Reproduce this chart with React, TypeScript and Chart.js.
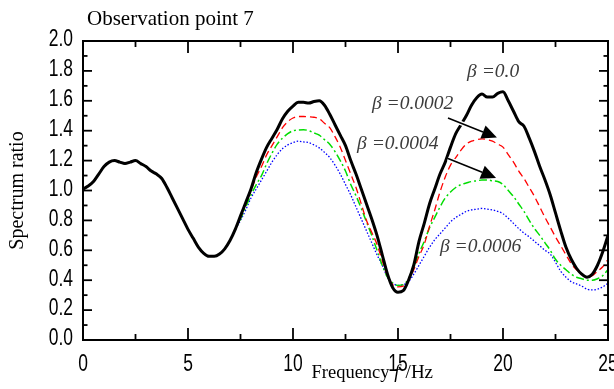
import { useEffect, useRef } from 'react';
import { Chart, registerables } from 'chart.js';

Chart.register(...registerables);

// ---------------- DATA ----------------
const freq = [
  0, 0.25, 0.5, 0.75, 1, 1.25, 1.5, 1.75, 2, 2.25, 2.5, 2.75, 3, 3.25, 3.5, 3.75,
  4, 4.25, 4.5, 4.75, 5, 5.25, 5.5, 5.75, 6, 6.25, 6.5, 6.75, 7, 7.25, 7.5, 7.75,
  8, 8.25, 8.5, 8.75, 9, 9.25, 9.5, 9.75, 10, 10.25, 10.5, 10.75, 11, 11.25, 11.5, 11.75,
  12, 12.25, 12.5, 12.75, 13, 13.25, 13.5, 13.75, 14, 14.25, 14.5, 14.75, 15, 15.25, 15.5, 15.75,
  16, 16.25, 16.5, 16.75, 17, 17.25, 17.5, 17.75, 18, 18.25, 18.5, 18.75, 19, 19.25, 19.5, 19.75,
  20, 20.25, 20.5, 20.75, 21, 21.25, 21.5, 21.75, 22, 22.25, 22.5, 22.75, 23, 23.25, 23.5, 23.75,
  24, 24.25, 24.5, 24.75, 25,
];

const beta0 = [
  1.01, 1.03, 1.06, 1.11, 1.16, 1.19, 1.2, 1.19, 1.18, 1.19, 1.2, 1.18, 1.16, 1.13, 1.11, 1.08,
  1.02, 0.95, 0.88, 0.81, 0.74, 0.68, 0.62, 0.58, 0.56, 0.56, 0.575, 0.61, 0.665, 0.74, 0.83, 0.92,
  1.01, 1.12, 1.21, 1.29, 1.35, 1.41, 1.48, 1.53, 1.565, 1.59, 1.59, 1.585, 1.595, 1.6, 1.57, 1.51,
  1.44, 1.37, 1.3, 1.2, 1.11, 1.01, 0.91, 0.81, 0.7, 0.57, 0.44, 0.35, 0.32, 0.33, 0.4, 0.5,
  0.66, 0.78, 0.91, 1.01, 1.11, 1.19, 1.29, 1.38, 1.44, 1.5, 1.57, 1.62, 1.645, 1.625, 1.625, 1.65,
  1.66, 1.6, 1.53, 1.46, 1.43, 1.35, 1.26, 1.16, 1.07, 0.97, 0.85, 0.73, 0.62, 0.54, 0.48, 0.44,
  0.42, 0.44, 0.5, 0.59, 0.7,
];

const beta0002 = [
  1.01, 1.03, 1.06, 1.11, 1.16, 1.19, 1.2, 1.19, 1.18, 1.19, 1.2, 1.18, 1.16, 1.13, 1.11, 1.08,
  1.02, 0.95, 0.88, 0.81, 0.74, 0.68, 0.62, 0.58, 0.56, 0.56, 0.575, 0.61, 0.665, 0.74, 0.82, 0.91,
  1.0, 1.09, 1.16, 1.24, 1.3, 1.36, 1.42, 1.46, 1.485, 1.495, 1.495, 1.493, 1.49, 1.48, 1.45, 1.42,
  1.36, 1.29, 1.2, 1.11, 1.02, 0.91, 0.8, 0.72, 0.64, 0.53, 0.43, 0.37, 0.355, 0.36, 0.4, 0.47,
  0.56, 0.64, 0.76, 0.87, 0.99, 1.09, 1.17, 1.22, 1.27, 1.31, 1.33, 1.34, 1.345, 1.34, 1.33, 1.31,
  1.29, 1.24, 1.19, 1.13, 1.08, 1.02, 0.96, 0.89, 0.82, 0.755, 0.69, 0.63, 0.57, 0.51, 0.47, 0.44,
  0.42, 0.43, 0.46, 0.49, 0.54,
];

const beta0004 = [
  1.01, 1.03, 1.06, 1.11, 1.16, 1.19, 1.2, 1.19, 1.18, 1.19, 1.2, 1.18, 1.16, 1.13, 1.11, 1.08,
  1.02, 0.95, 0.88, 0.81, 0.74, 0.68, 0.62, 0.58, 0.56, 0.56, 0.575, 0.61, 0.665, 0.74, 0.81, 0.89,
  0.97, 1.04, 1.1, 1.18, 1.25, 1.31, 1.35, 1.38, 1.4, 1.405, 1.407, 1.4, 1.385, 1.37, 1.34, 1.31,
  1.26, 1.2, 1.13, 1.04, 0.965, 0.88, 0.79, 0.7, 0.6, 0.5, 0.42, 0.38, 0.365, 0.37, 0.41, 0.49,
  0.58, 0.66, 0.75, 0.82, 0.89, 0.95, 0.99, 1.02, 1.04, 1.05, 1.06, 1.065, 1.07, 1.07, 1.065, 1.06,
  1.04, 1.0, 0.96, 0.91, 0.86, 0.8, 0.745, 0.7, 0.65, 0.6, 0.54, 0.5, 0.47, 0.44, 0.42, 0.41,
  0.4, 0.4, 0.41, 0.43, 0.47,
];

const beta0006 = [
  1.01, 1.03, 1.06, 1.11, 1.16, 1.19, 1.2, 1.19, 1.18, 1.19, 1.2, 1.18, 1.16, 1.13, 1.11, 1.08,
  1.02, 0.95, 0.88, 0.81, 0.74, 0.68, 0.62, 0.58, 0.56, 0.56, 0.575, 0.61, 0.665, 0.74, 0.8, 0.87,
  0.95, 1.01, 1.07, 1.13, 1.19, 1.24, 1.28, 1.305, 1.32, 1.33, 1.325, 1.32, 1.305, 1.285, 1.255, 1.22,
  1.17, 1.11, 1.04, 0.97, 0.89, 0.81, 0.73, 0.65, 0.57, 0.5, 0.42, 0.38, 0.365, 0.37, 0.39, 0.44,
  0.5, 0.56, 0.62, 0.67, 0.71, 0.75, 0.79, 0.82, 0.84, 0.86, 0.87, 0.875, 0.88, 0.875, 0.87, 0.86,
  0.845, 0.815, 0.78, 0.745, 0.715, 0.69, 0.66, 0.63, 0.6, 0.575, 0.52, 0.46, 0.42, 0.39, 0.375, 0.36,
  0.34, 0.335, 0.34, 0.355, 0.38,
];

const xMajorTicks = [0, 5, 10, 15, 20, 25];
const xMinorTicks = [2.5, 7.5, 12.5, 17.5, 22.5];
const yMajorTicks = [0, 0.2, 0.4, 0.6, 0.8, 1.0, 1.2, 1.4, 1.6, 1.8, 2.0];
const yMinorTicks = [0.1, 0.3, 0.5, 0.7, 0.9, 1.1, 1.3, 1.5, 1.7, 1.9];
const xTickLabels = ['0', '5', '10', '15', '20', '25'];
const yTickLabels = ['0.0', '0.2', '0.4', '0.6', '0.8', '1.0', '1.2', '1.4', '1.6', '1.8', '2.0'];

const seriesLabels = ['\u03b2 =0.0', '\u03b2 =0.0002', '\u03b2 =0.0004', '\u03b2 =0.0006'];
// label anchor (left, baseline) in data units
const labelX = [18.29, 13.76, 13.05, 17.0];
const labelY = [1.759, 1.545, 1.278, 0.589];
// arrows: start -> tip in data units
const arrowFromX = [17.38, 17.38];
const arrowFromY = [1.485, 1.214];
const arrowToX = [19.71, 19.67];
const arrowToY = [1.355, 1.084];

const chartTitle = 'Observation point 7';
const yTitle = 'Spectrum ratio';

const SANS = '"Liberation Sans", Arial, sans-serif';
const SERIF = '"Liberation Serif", "Times New Roman", serif';

const decorPlugin = {
  id: 'decor',
  afterDraw(chart: any) {
    const { ctx, chartArea: a } = chart;
    const xs = chart.scales.x;
    const ys = chart.scales.y;
    ctx.save();
    ctx.strokeStyle = '#000';
    ctx.lineCap = 'butt';
    const line = (x1: number, y1: number, x2: number, y2: number) => {
      ctx.beginPath();
      ctx.moveTo(x1, y1);
      ctx.lineTo(x2, y2);
      ctx.stroke();
    };

    // arrows (with thin white halo that cuts the curves, as in the original)
    arrowFromX.forEach((_, i) => {
      const x1 = xs.getPixelForValue(arrowFromX[i]);
      const y1 = ys.getPixelForValue(arrowFromY[i]);
      const x2 = xs.getPixelForValue(arrowToX[i]);
      const y2 = ys.getPixelForValue(arrowToY[i]);
      const ang = Math.atan2(y2 - y1, x2 - x1);
      const hl = 15;
      const hw = 7;
      const bx = x2 - hl * Math.cos(ang);
      const by = y2 - hl * Math.sin(ang);
      ctx.strokeStyle = '#fff';
      ctx.lineWidth = 4.5;
      line(x1, y1, bx - 3 * Math.cos(ang), by - 3 * Math.sin(ang));
      ctx.strokeStyle = '#000';
      ctx.lineWidth = 1.6;
      line(x1, y1, bx, by);
      ctx.fillStyle = '#000';
      ctx.beginPath();
      ctx.moveTo(x2, y2);
      ctx.lineTo(bx + hw * Math.sin(ang), by - hw * Math.cos(ang));
      ctx.lineTo(bx - hw * Math.sin(ang), by + hw * Math.cos(ang));
      ctx.closePath();
      ctx.fill();
    });

    // frame
    ctx.strokeStyle = '#000';
    ctx.lineWidth = 2;
    ctx.strokeRect(a.left, a.top, a.right - a.left, a.bottom - a.top);
    // ticks
    ctx.lineWidth = 1.8;
    xMajorTicks.forEach((v) => {
      const p = xs.getPixelForValue(v);
      line(p, a.bottom, p, a.bottom - 12);
      line(p, a.top, p, a.top + 12);
    });
    xMinorTicks.forEach((v) => {
      const p = xs.getPixelForValue(v);
      line(p, a.bottom, p, a.bottom - 6);
      line(p, a.top, p, a.top + 6);
    });
    yMajorTicks.forEach((v) => {
      const p = ys.getPixelForValue(v);
      line(a.left, p, a.left + 9, p);
      line(a.right, p, a.right - 9, p);
    });
    yMinorTicks.forEach((v) => {
      const p = ys.getPixelForValue(v);
      line(a.left, p, a.left + 4.5, p);
      line(a.right, p, a.right - 4.5, p);
    });

    // tick labels (condensed sans)
    ctx.fillStyle = '#000';
    ctx.font = '23px ' + SANS;
    ctx.textBaseline = 'middle';
    yMajorTicks.forEach((v, i) => {
      const p = ys.getPixelForValue(v);
      ctx.save();
      ctx.translate(a.left - 10, p - 1);
      ctx.scale(0.76, 1);
      ctx.textAlign = 'right';
      ctx.fillText(yTickLabels[i], 0, 0);
      ctx.restore();
    });
    xMajorTicks.forEach((v, i) => {
      const p = xs.getPixelForValue(v);
      ctx.save();
      ctx.translate(p, a.bottom + 25);
      ctx.scale(0.76, 1);
      ctx.textAlign = 'center';
      ctx.fillText(xTickLabels[i], 0, 0);
      ctx.restore();
    });
    ctx.textBaseline = 'alphabetic';

    // series labels
    ctx.fillStyle = '#3c3c3c';
    ctx.font = 'italic 19.5px ' + SERIF;
    ctx.textAlign = 'left';
    seriesLabels.forEach((t, i) => {
      ctx.fillText(t, xs.getPixelForValue(labelX[i]), ys.getPixelForValue(labelY[i]));
    });

    // chart title
    ctx.fillStyle = '#000';
    ctx.font = '21px ' + SERIF;
    ctx.textAlign = 'left';
    ctx.fillText(chartTitle, 87, 24.5);

    // x axis title: Frequency f /Hz
    ctx.font = '18.5px ' + SERIF;
    let cx = 311.5;
    const by0 = 378;
    ctx.fillText('Frequency ', cx, by0);
    cx += ctx.measureText('Frequency ').width;
    ctx.font = 'italic 18.5px ' + SERIF;
    ctx.fillText('f', cx, by0);
    cx += ctx.measureText('f').width;
    ctx.font = '19px ' + SERIF;
    ctx.fillText(' /Hz', cx + 1.5, by0);

    // y axis title
    ctx.save();
    ctx.translate(23, (a.top + a.bottom) / 2);
    ctx.rotate(-Math.PI / 2);
    ctx.font = '20px ' + SERIF;
    ctx.textAlign = 'center';
    ctx.fillText(yTitle, 0, 0);
    ctx.restore();

    ctx.restore();
  },
};

export default function App() {
  const ref = useRef<HTMLCanvasElement>(null);
  useEffect(() => {
    document.body.style.margin = '0';
    const canvas = ref.current!;
    const mk = (vals: number[]) => freq.map((f, i) => ({ x: f, y: vals[i] }));
    const chart = new Chart(canvas, {
      type: 'line',
      data: {
        datasets: [
          {
            label: seriesLabels[0],
            data: mk(beta0),
            borderColor: '#000000',
            borderWidth: 3,
            pointRadius: 0,
            cubicInterpolationMode: 'monotone',
          },
          {
            label: seriesLabels[1],
            data: mk(beta0002),
            borderColor: '#ff0000',
            borderWidth: 1.3,
            borderDash: [7, 4],
            pointRadius: 0,
            cubicInterpolationMode: 'monotone',
          },
          {
            label: seriesLabels[2],
            data: mk(beta0004),
            borderColor: '#00dd00',
            borderWidth: 1.5,
            borderDash: [8, 3, 2, 3],
            pointRadius: 0,
            cubicInterpolationMode: 'monotone',
          },
          {
            label: seriesLabels[3],
            data: mk(beta0006),
            borderColor: '#0000ff',
            borderWidth: 1.3,
            borderDash: [1.5, 1.8],
            pointRadius: 0,
            cubicInterpolationMode: 'monotone',
          },
        ],
      },
      options: {
        responsive: false,
        animation: false,
        devicePixelRatio: 1,
        layout: { padding: { top: 41, right: 6, left: 0, bottom: 0 } },
        plugins: {
          legend: { display: false },
          title: { display: false },
          tooltip: { enabled: false },
        },
        scales: {
          x: {
            type: 'linear',
            min: 0,
            max: 25,
            grid: { display: false, drawTicks: false },
            border: { display: false },
            afterBuildTicks: (s: any) => {
              s.ticks = xMajorTicks.map((v) => ({ value: v }));
            },
            afterFit: (s: any) => {
              s.height = 49;
              s.paddingLeft = 0;
              s.paddingRight = 0;
            },
            ticks: { display: false },
          },
          y: {
            type: 'linear',
            min: 0,
            max: 2,
            grid: { display: false, drawTicks: false },
            border: { display: false },
            afterBuildTicks: (s: any) => {
              s.ticks = yMajorTicks.map((v) => ({ value: v }));
            },
            afterFit: (s: any) => {
              s.width = 83;
              s.paddingTop = 0;
              s.paddingBottom = 0;
            },
            ticks: { display: false },
          },
        },
      },
      plugins: [decorPlugin],
    } as any);
    return () => chart.destroy();
  }, []);
  return (
    <div style={{ width: 614, height: 389 }}>
      <canvas ref={ref} width={614} height={389} style={{ display: 'block' }} />
    </div>
  );
}
